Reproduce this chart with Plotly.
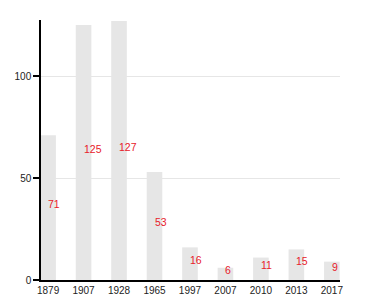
import plotly.graph_objects as go

years = ["1879", "1907", "1928", "1965", "1997", "2007", "2010", "2013", "2017"]
values = [71, 125, 127, 53, 16, 6, 11, 15, 9]

idx = list(range(len(years)))
FONT = "Liberation Sans, Arial, Helvetica, sans-serif"

fig = go.Figure()
fig.add_trace(go.Bar(
    x=idx, y=values, width=0.44,
    marker=dict(color="#e6e6e6", line=dict(width=0)),
    hoverinfo="skip", showlegend=False,
))

for i, v in zip(idx, values):
    fig.add_annotation(
        x=i, y=v / 2, text=str(v), showarrow=False,
        xanchor="left", yanchor="middle", xshift=-1, yshift=3.6,
        borderpad=0,
        font=dict(family=FONT, size=10.5, color="#e8202a"),
    )

# body has an 8px default margin; compensate so plot area sits where the reference's does
fig.update_layout(
    width=372, height=292,
    margin=dict(l=33, r=40, t=12, b=20, autoexpand=False),
    paper_bgcolor="white", plot_bgcolor="white",
    font=dict(family=FONT, size=10, color="#222222"),
    xaxis=dict(
        range=[-0.2, 8.23], tickmode="array", tickvals=idx, ticktext=years,
        showgrid=False, showline=True, linecolor="black", linewidth=1.5,
        ticks="", zeroline=False, fixedrange=True,
        tickfont=dict(family=FONT, size=10, color="#222222"),
    ),
    yaxis=dict(
        range=[0, 127.5], tickvals=[0, 50, 100],
        showgrid=True, gridcolor="#e6e6e6", gridwidth=1,
        showline=True, linecolor="black", linewidth=1.5,
        ticks="outside", ticklen=6, tickcolor="black", tickwidth=1.5,
        zeroline=False, fixedrange=True,
        tickfont=dict(family=FONT, size=10, color="#222222"),
    ),
)

fig.write_html("out.html")
